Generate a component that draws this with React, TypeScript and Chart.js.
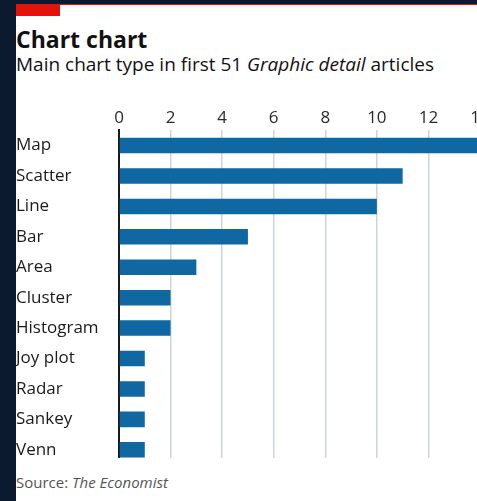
import React, { useEffect, useRef } from "react";
import { Chart, registerables } from "chart.js";

Chart.register(...registerables);

const categories = ["Map", "Scatter", "Line", "Bar", "Area", "Cluster", "Histogram", "Joy plot", "Radar", "Sankey", "Venn"];
const counts = [14, 11, 10, 5, 3, 2, 2, 1, 1, 1, 1];
const xTicks = [0, 2, 4, 6, 8, 10, 12, 14];

const FONT = "'Open Sans', sans-serif";
const BAR = "#0f68a2";
const GRID = "#ccd5dd";
const INK = "#1a1a1a";

export default function App() {
  const ref = useRef<HTMLCanvasElement | null>(null);

  useEffect(() => {
    const canvas = ref.current;
    if (!canvas) return;
    const chart = new Chart(canvas, {
      type: "bar",
      data: {
        labels: categories,
        datasets: [
          {
            data: counts,
            backgroundColor: BAR,
            borderWidth: 0,
            categoryPercentage: 1,
            barPercentage: 0.51,
          },
        ],
      },
      options: {
        indexAxis: "y",
        animation: false,
        responsive: false,
        devicePixelRatio: 1,
        layout: { padding: { top: 6, right: 20, bottom: 10, left: 0 } },
        plugins: { legend: { display: false }, tooltip: { enabled: false }, title: { display: false } },
        scales: {
          x: {
            position: "top",
            min: 0,
            max: 14,
            afterBuildTicks: (scale: any) => {
              scale.ticks = xTicks.map((v) => ({ value: v }));
            },
            ticks: {
              padding: 2,
              color: "#2a2a2a",
              font: { family: FONT, size: 17 },
              maxRotation: 0,
            },
            grid: {
              drawTicks: false,
              lineWidth: 1.5,
              color: (ctx: any) => (ctx.tick && ctx.tick.value === 0 ? INK : GRID),
            },
            border: { display: false },
          },
          y: {
            position: "left",
            afterFit: (scale: any) => {
              scale.width = 103;
              scale.paddingTop = 0;
              scale.paddingBottom = 0;
            },
            ticks: {
              crossAlign: "far",
              padding: 0,
              color: INK,
              font: { family: FONT, size: 17 },
              autoSkip: false,
            },
            grid: { display: false, drawTicks: false },
            border: { display: true, color: INK, width: 2 },
          },
        },
      },
    });
    return () => chart.destroy();
  }, []);

  return (
    <div
      style={{
        position: "fixed",
        left: 0,
        top: 0,
        width: 477,
        height: 501,
        overflow: "hidden",
        background: "#0b1a2f",
        fontFamily: FONT,
      }}
    >
      <div
        style={{
          position: "absolute",
          left: 16,
          top: 4,
          width: 600,
          height: 600,
          background: "#ffffff",
          borderTop: "1px solid #e3120b",
          boxSizing: "border-box",
        }}
      />
      <div style={{ position: "absolute", left: 16, top: 4, width: 44, height: 12, background: "#e3120b" }} />
      <div
        style={{
          position: "absolute",
          left: 16,
          top: 28,
          fontSize: 23,
          lineHeight: 1,
          fontWeight: 700,
          color: "#121212",
          whiteSpace: "nowrap",
        }}
      >
        Chart chart
      </div>
      <div
        style={{
          position: "absolute",
          left: 16,
          top: 55,
          fontSize: 19,
          lineHeight: 1,
          color: "#121212",
          whiteSpace: "nowrap",
        }}
      >
        Main chart type in first 51 <i>Graphic detail</i> articles
      </div>
      <div style={{ position: "absolute", left: 16, top: 100, width: 484, height: 358, overflow: "hidden" }}>
        <canvas
          ref={ref}
          width={484}
          height={375}
          style={{ position: "absolute", left: 0, top: 0, width: 484, height: 375 }}
        />
      </div>
      <div
        style={{
          position: "absolute",
          left: 16,
          top: 475,
          fontSize: 15,
          lineHeight: 1,
          color: "#555555",
          whiteSpace: "nowrap",
        }}
      >
        Source: <i>The Economist</i>
      </div>
    </div>
  );
}
